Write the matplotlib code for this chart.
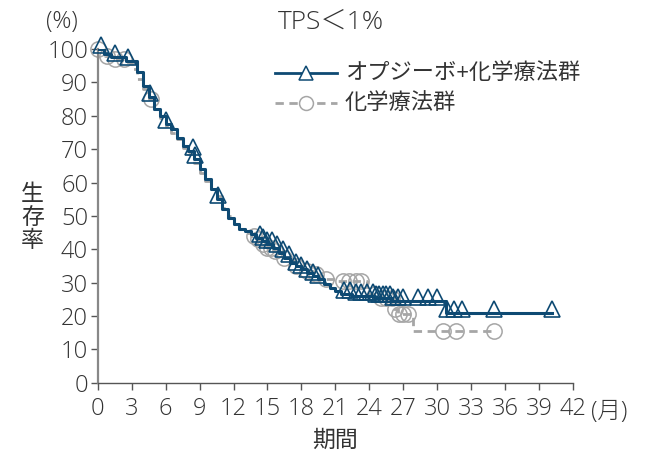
import numpy as np
import matplotlib
matplotlib.use('Agg')
import matplotlib.pyplot as plt

plt.rcParams['font.family'] = ['Open Sans', 'Noto Sans CJK JP', 'DejaVu Sans']

# Kaplan-Meier step data
nivo_t = [0, 0.5, 1.2, 2.5, 3.5, 4.0, 4.5, 5.0, 5.5, 6.0, 6.5, 7.0, 7.5, 8.0, 8.5,
          9.0, 9.5, 10.0, 10.5, 11.0, 11.5, 12.0, 12.5, 13.0, 13.5, 14.0, 14.5,
          15.0, 15.5, 16.0, 16.5, 17.0, 17.5, 18.0, 18.5, 19.0, 19.5, 20.0, 20.5,
          21.0, 21.5, 22.5, 24.5, 26.0, 30.8]
nivo_s = [100, 98.5, 97.5, 96.5, 93, 89, 85.5, 82, 80, 77.5, 76, 73.5, 71, 69.5, 67,
          64, 61, 58, 55, 52, 49.5, 47.5, 46, 45.5, 44.5, 43.5, 42.5,
          41.5, 40.5, 39, 37.5, 36, 35, 34, 33, 32, 31, 29.5, 28.5,
          27.5, 26.5, 26, 25.5, 24.5, 20.8]
nivo_end = 40.2
nivo_cens = [0.3, 1.5, 2.7, 4.6, 6.0, 8.4, 8.6, 10.6, 14.3, 14.6, 15.0, 15.4, 15.8,
             16.4, 16.9, 17.5, 18.0, 18.5, 19.0, 19.5, 21.8, 22.3, 22.8, 23.3, 23.8,
             24.3, 24.6, 24.9, 25.2, 25.5, 25.8, 26.1, 26.5, 27.0, 28.3, 29.2, 30.0,
             30.9, 31.5, 32.2, 35.0, 40.2]

chemo_t = [0, 0.6, 1.3, 2.4, 3.0, 3.5, 4.0, 4.5, 5.0, 5.5, 6.0, 6.5, 7.0, 7.5, 8.0,
           8.5, 9.0, 9.5, 10.0, 10.5, 11.0, 11.5, 12.0, 12.5, 13.0, 13.5, 14.0,
           14.5, 15.0, 15.5, 16.0, 16.5, 17.0, 17.5, 18.0, 18.5, 19.0, 19.5, 20.0,
           21.0, 23.8, 24.8, 26.2, 26.5, 27.9]
chemo_s = [100, 98, 97, 96, 94, 91, 88, 85, 82, 79.5, 77, 75, 73, 70.5, 68.5,
           66, 63, 60.5, 58, 56, 52.5, 50, 47.5, 46, 45, 44, 43,
           41.5, 40.5, 39.5, 38.5, 37.5, 36.5, 35, 34, 33.5, 32.5, 32, 31,
           30.5, 26.5, 25.5, 22, 20.5, 15.5]
chemo_end = 35.0
chemo_cens = [0.0, 0.8, 1.5, 2.3, 4.7, 13.8, 14.2, 14.6, 15.0, 15.3, 15.7, 16.5,
              17.5, 18.5, 19.3, 20.2, 21.7, 22.2, 22.8, 23.3, 24.5, 25.0, 25.5,
              26.0, 26.3, 26.6, 27.0, 27.4, 30.5, 31.7, 35.0]

xticks = np.arange(0, 43, 3)
yticks = np.arange(0, 101, 10)

navy = '#0e4a73'
grey = '#a6a6a6'
txt = '#333333'


def surv_at(t, s, x):
    idx = np.searchsorted(t, x, side='right') - 1
    return np.array(s)[idx]


fig = plt.figure(figsize=(6.48, 4.59), dpi=100)
ax = fig.add_axes([0.151, 0.166, 0.733, 0.727])

# chemo group (grey dashed)
ct = np.append(chemo_t, chemo_end)
cs = np.append(chemo_s, chemo_s[-1])
ax.step(ct, cs, where='post', color=grey, lw=2, ls=(0, (3, 2)), zorder=2)
ax.plot(chemo_cens, surv_at(chemo_t, chemo_s, chemo_cens), 'o', ms=11,
        mfc='none', mec=grey, mew=1.1, clip_on=False, zorder=2)

# nivolumab + chemo (navy solid)
nt = np.append(nivo_t, nivo_end)
ns = np.append(nivo_s, nivo_s[-1])
ax.step(nt, ns, where='post', color=navy, lw=2.2, zorder=3)
ax.plot(nivo_cens, surv_at(nivo_t, nivo_s, nivo_cens) + 1.2, '^', ms=11,
        mfc='none', mec=navy, mew=1.2, clip_on=False, zorder=3)

ax.set_xlim(0, 42)
ax.set_ylim(0, 100)
ax.set_xticks(xticks)
ax.set_yticks(yticks)
ax.tick_params(labelsize=17, colors='#555555', labelcolor=txt, length=5, width=1)
ax.tick_params(axis='y', pad=2)
ax.tick_params(axis='x', pad=5)
for lab in ax.get_xticklabels() + ax.get_yticklabels():
    lab.set_fontweight('light')
for sp in ['top', 'right']:
    ax.spines[sp].set_visible(False)
ax.spines['left'].set_color('#888888')
ax.spines['left'].set_linewidth(1.6)
ax.spines['bottom'].set_color('#555555')
ax.spines['bottom'].set_linewidth(1)

fig.text(0.51, 0.952, 'TPS＜1%', ha='center', va='center', fontsize=19, color=txt,
         fontweight='light')
fig.text(0.096, 0.952, '(%)', ha='center', va='center', fontsize=17, color=txt,
         fontweight='light')
fig.text(0.05, 0.525, '生\n存\n率', ha='center', va='center', fontsize=16.5,
         color=txt, linespacing=0.95)
fig.text(0.94, 0.103, '(月)', ha='center', va='center', fontsize=17, color=txt,
         fontweight='light')
fig.text(0.517, 0.04, '期間', ha='center', va='center', fontsize=16.5, color=txt)

# legend drawn by hand to match the layout
lx0, lx1 = 0.425, 0.52
fig.add_artist(plt.Line2D([lx0, lx1], [0.84, 0.84], color=navy, lw=2,
                          transform=fig.transFigure))
fig.add_artist(plt.Line2D([(lx0 + lx1) / 2], [0.84], marker='^', ms=10, mfc='white',
                          mec=navy, mew=1.1, transform=fig.transFigure))
fig.add_artist(plt.Line2D([lx0, lx1], [0.775, 0.775], color=grey, lw=2,
                          ls=(0, (3, 2)), transform=fig.transFigure))
fig.add_artist(plt.Line2D([(lx0 + lx1) / 2], [0.775], marker='o', ms=10, mfc='white',
                          mec=grey, mew=1.1, transform=fig.transFigure))
fig.text(0.532, 0.84, 'オプジーボ+化学療法群', va='center', fontsize=16, color=txt)
fig.text(0.532, 0.775, '化学療法群', va='center', fontsize=16, color=txt)

fig.savefig('out.png', dpi=100)
